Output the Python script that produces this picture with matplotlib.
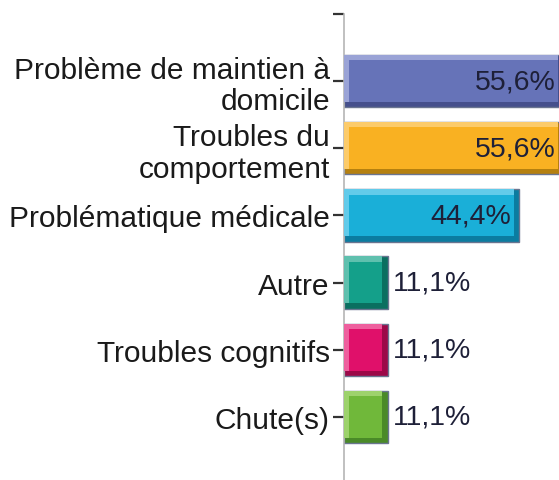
import numpy as np
import matplotlib.pyplot as plt

categories = ["Problème de maintien à\ndomicile", "Troubles du\ncomportement",
              "Problématique médicale", "Autre", "Troubles cognitifs", "Chute(s)"]
values = [55.6, 55.6, 44.4, 11.1, 11.1, 11.1]
labels = ["55,6%", "55,6%", "44,4%", "11,1%", "11,1%", "11,1%"]

face = ["#6673b8", "#f9b122", "#1aafd8", "#14a08a", "#e0106a", "#70b83a"]
light = ["#9aa3d6", "#fccb6a", "#62cbea", "#5fc0ae", "#ee5f9e", "#9dd26c"]
dark = ["#454f8c", "#b5800f", "#0b7ca0", "#0a6f60", "#9c0848", "#4a8a28"]

plt.rcParams['font.family'] = ['Liberation Sans', 'DejaVu Sans']

fig = plt.figure(figsize=(5.59, 4.81), dpi=100)
ax = fig.add_axes([0.615, 0.0, 0.385, 0.969])

y = np.arange(len(categories))
h = 0.78
dx = 1.3
dy = 0.08
v = np.array(values)

# bevel: dark base, light top-left, main face inside
ax.barh(y, v, height=h, color=dark, edgecolor="#6a7590", linewidth=1, zorder=2)
ax.barh(y - dy / 2, v - dx, height=h - dy, color=light, linewidth=0, zorder=3)
ax.barh(y, v - 2 * dx, left=dx, height=h - 2 * dy, color=face, linewidth=0, zorder=4)

for yi, vi, lab in zip(y, values, labels):
    if vi > 30:
        ax.annotate(lab, (vi, yi), xytext=(-8, 0), textcoords="offset pixels",
                    ha="right", va="center", fontsize=20.5, color="#1e2038",
                    zorder=5, annotation_clip=False)
    else:
        ax.annotate(lab, (vi, yi), xytext=(5, 0), textcoords="offset pixels",
                    ha="left", va="center", fontsize=20.5, color="#1e2038", zorder=5)

ax.set_xlim(0, 54.5)
ax.set_ylim(len(categories) - 1 + 0.94, -1.0)

ticks = np.arange(-1, len(categories))
ax.set_yticks(ticks)
ax.set_yticklabels([""] + categories, fontsize=21.5, color="#1a1a1a",
                   linespacing=1.15, multialignment="right")
ax.tick_params(axis="y", length=8, width=1.6, color="#333333", pad=2)
ax.set_xticks([])

for s in ["top", "right", "bottom"]:
    ax.spines[s].set_visible(False)
ax.spines["left"].set_color("#b5b5b5")
ax.spines["left"].set_linewidth(1.2)

fig.savefig("out.png", dpi=100)
